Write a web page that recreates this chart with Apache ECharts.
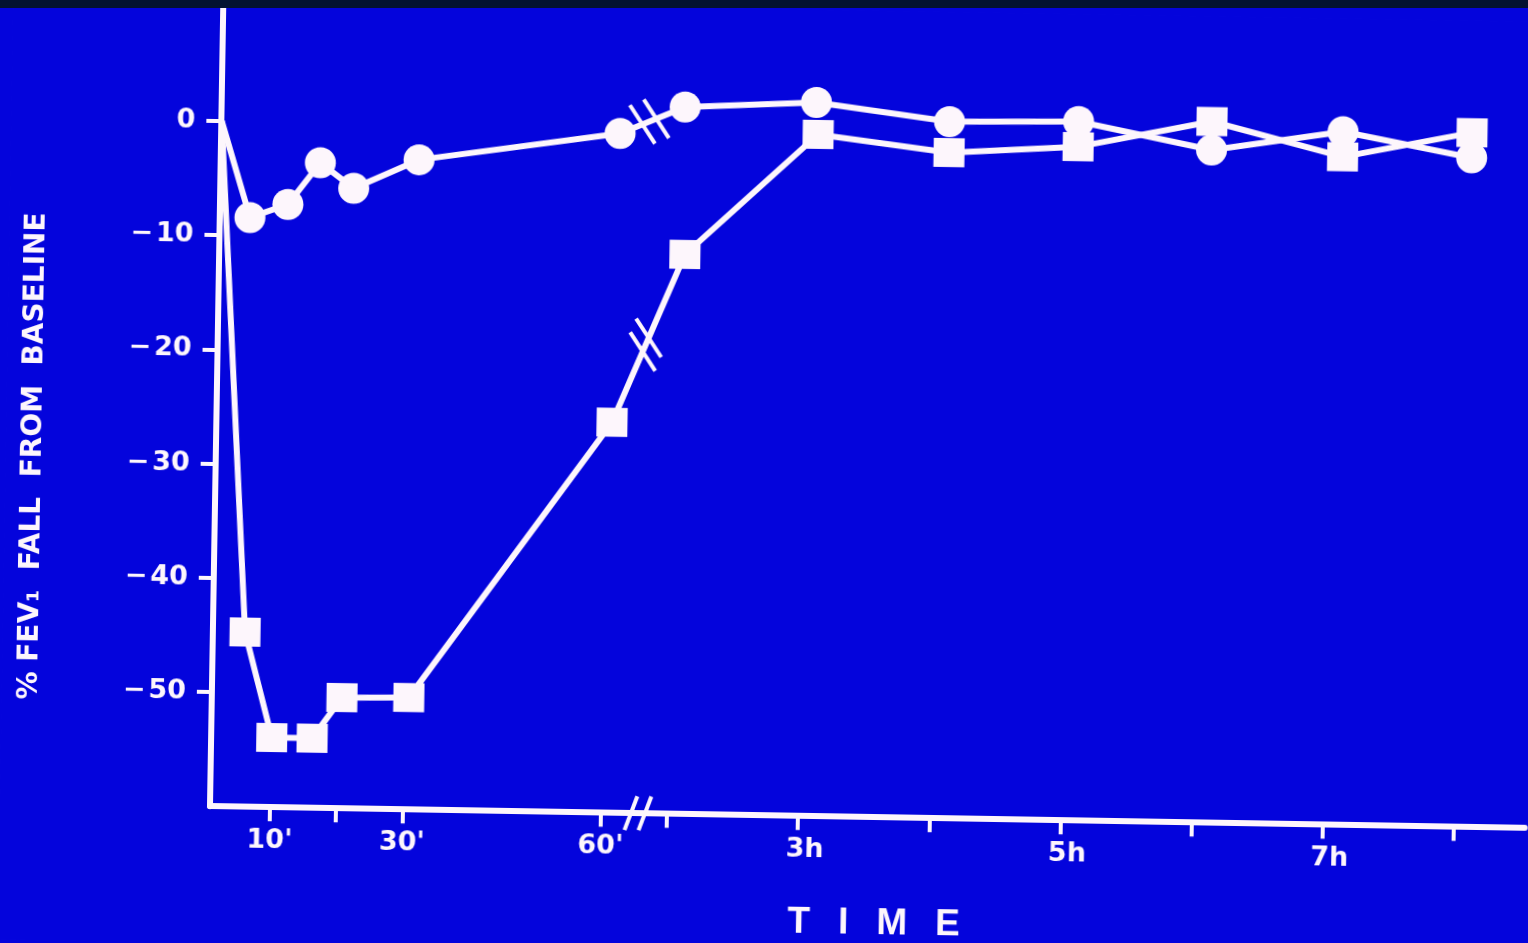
<!DOCTYPE html>
<html>
<head>
<meta charset="utf-8">
<script src="https://cdn.jsdelivr.net/npm/echarts@6/dist/echarts.min.js"></script>
<style>
  html, body { margin: 0; padding: 0; background: #0404dc; overflow: hidden; }
  #c { width: 1528px; height: 943px; transform-origin: 210px 805px; transform: rotate(0.95deg); }
  #band { position: absolute; left: 0; top: 0; width: 1528px; height: 8px; background: #031232; }
</style>
</head>
<body>
<div id="c"></div>
<div id="band"></div>
<script>
// ---- data (time in minutes, % FEV1 fall from baseline) ----
const circleTimes  = [1, 5.5, 11.2, 16.0, 21.1, 30.9, 61.2, 123, 183, 244, 303, 364, 424, 483];
const circleValues = [0, -8.4, -7.2, -3.5, -5.7, -3.1, -0.5, 1.9, 2.5, 1.0, 1.2, -1.1, 0.7, -1.4];
const squareTimes  = [1, 5.8, 10.1, 16.2, 20.6, 30.7, 60.7, 124, 184, 244, 303, 364, 424, 483];
const squareValues = [0, -44.7, -53.9, -53.9, -50.3, -50.2, -25.8, -11.0, -0.3, -1.7, -1.0, 1.4, -1.5, 0.8];
const xTickTimes  = [10, 20, 30, 60, 120, 180, 240, 300, 360, 420, 480];
const xLabelTimes = [10, 30, 60, 180, 300, 420];
const xLabelTexts = ["10'", "30'", "60'", "3h", "5h", "7h"];
const yTickValues = [-50, -40, -30, -20, -10, 0];
const yTitle = '% FEV\u2081  FALL  FROM  BASELINE';
const xTitle = ['T', 'I', 'M', 'E'];

// ---- broken time scale: minutes on the left part, hours on the right part ----
const BREAK_T = 90;          // minutes; axis is broken between 60' and 2h
const BREAK_POS = 428;       // axis position of the break marks
function pos(t) {
  return t <= BREAK_T ? -6.2 + 6.62 * t : 457 + (t / 60 - 2) * 131.2;
}

const WHITE = '#fdf6fc';
const FONT = '"DejaVu Sans", sans-serif';

function buildData(times, values) {
  return times.map((t, i) => i === 0
    ? { value: [pos(t), values[i]], symbol: 'none' }
    : { value: [pos(t), values[i]] });
}
function valueAtBreak(times, values) {
  for (let i = 0; i < times.length - 1; i++) {
    const a = pos(times[i]), b = pos(times[i + 1]);
    if (a <= BREAK_POS && b >= BREAK_POS) {
      const f = (BREAK_POS - a) / (b - a);
      return { y: values[i] + f * (values[i + 1] - values[i]), i: i };
    }
  }
  return { y: 0, i: 0 };
}
const cBreak = valueAtBreak(circleTimes, circleValues);
const sBreak = valueAtBreak(squareTimes, squareValues);
const breakSets = [
  { kind: 'axis' },
  { kind: 'line', times: circleTimes, values: circleValues, i: cBreak.i },
  { kind: 'line', times: squareTimes, values: squareValues, i: sBreak.i }
];

const labelTexts = {};
xLabelTimes.forEach((t, i) => { labelTexts[pos(t).toFixed(3)] = xLabelTexts[i]; });

const LABEL_STYLE = { color: WHITE, fontFamily: FONT, fontWeight: 'bold', fontSize: 27 };

const chart = echarts.init(document.getElementById('c'));
chart.setOption({
  backgroundColor: '#0404dc',
  animation: false,
  grid: { left: 210, right: 3, top: 6.8, bottom: 136.8, containLabel: false, outerBoundsMode: 'none' },
  xAxis: {
    type: 'value', min: 0, max: 1315,
    axisLine: { show: true, onZero: false, lineStyle: { color: WHITE, width: 6 } },
    axisTick: { show: true, customValues: xTickTimes.map(pos), length: 14, lineStyle: { color: WHITE, width: 4 } },
    axisLabel: {
      show: true, customValues: xLabelTimes.map(pos), margin: 20,
      color: WHITE, fontFamily: FONT, fontWeight: 'bold', fontSize: 27,
      formatter: v => {
        const s = labelTexts[Number(v).toFixed(3)] || '';
        return s.indexOf('h') >= 0 ? '{h|' + s + '}' : '{m|' + s + '}';
      },
      rich: {
        m: LABEL_STYLE,
        h: Object.assign({ padding: [0, 0, 0, 14] }, LABEL_STYLE)
      }
    },
    splitLine: { show: false },
    name: xTitle.map(ch => '{t|' + ch + '}').join(''),
    nameLocation: 'middle', nameGap: 88,
    nameTextStyle: {
      padding: [0, 0, 0, 16],
      rich: { t: { color: WHITE, fontFamily: '"Liberation Sans", sans-serif', fontWeight: 'bold', fontSize: 37, padding: [0, 14, 0, 14] } }
    }
  },
  yAxis: {
    type: 'value', min: -60, max: 10,
    axisLine: { show: true, onZero: false, lineStyle: { color: WHITE, width: 6 } },
    axisTick: { show: true, customValues: yTickValues, length: 15, lineStyle: { color: WHITE, width: 4 } },
    axisLabel: {
      show: true, customValues: yTickValues, margin: 26,
      color: WHITE, fontFamily: FONT, fontWeight: 'bold', fontSize: 27,
      formatter: v => v === 0 ? '0' : '\u2212\u200a' + Math.abs(v)
    },
    splitLine: { show: false }
  },
  graphic: [{
    type: 'text', x: 28, y: 459, rotation: Math.PI / 2, z: 10,
    style: {
      text: yTitle, fill: WHITE, fontFamily: FONT, fontWeight: 'bold', fontSize: 28,
      align: 'center', verticalAlign: 'middle'
    }
  }],
  series: [
    {
      name: 'circles', type: 'line', data: buildData(circleTimes, circleValues),
      symbol: 'circle', symbolSize: 31, showAllSymbol: true,
      lineStyle: { color: WHITE, width: 6 }, itemStyle: { color: WHITE }, z: 3
    },
    {
      name: 'squares', type: 'line', data: buildData(squareTimes, squareValues),
      symbol: 'rect', symbolSize: [31, 29], showAllSymbol: true,
      lineStyle: { color: WHITE, width: 6 }, itemStyle: { color: WHITE }, z: 3
    },
    {
      name: 'breaks', type: 'custom', clip: false, z: 5, silent: true,
      data: [[BREAK_POS, -60], [BREAK_POS, cBreak.y], [BREAK_POS, sBreak.y]],
      renderItem: function (params, api) {
        const set = breakSets[params.dataIndex];
        const c = api.coord([api.value(0), api.value(1)]);
        const children = [];
        if (set.kind === 'axis') {
          const a = 70 * Math.PI / 180, h = 18;
          const sx = Math.cos(a) * h, sy = -Math.sin(a) * h;
          [-7, 7].forEach(off => {
            children.push({ type: 'line', shape: { x1: c[0] + off - sx, y1: c[1] - sy, x2: c[0] + off + sx, y2: c[1] + sy },
              style: { stroke: WHITE, lineWidth: 4 } });
          });
        } else {
          const p0 = api.coord([pos(set.times[set.i]), set.values[set.i]]);
          const p1 = api.coord([pos(set.times[set.i + 1]), set.values[set.i + 1]]);
          let dx = p1[0] - p0[0], dy = p1[1] - p0[1];
          const L = Math.sqrt(dx * dx + dy * dy); dx /= L; dy /= L;
          const a = 56 * Math.PI / 180, h = 23;
          const sx = Math.cos(a) * h, sy = Math.sin(a) * h;
          [-7.5, 7.5].forEach(off => {
            const cx = c[0] + dx * off, cy = c[1] + dy * off;
            children.push({ type: 'line', shape: { x1: cx - sx, y1: cy - sy, x2: cx + sx, y2: cy + sy },
              style: { stroke: WHITE, lineWidth: 4 } });
          });
        }
        return { type: 'group', children: children };
      }
    }
  ]
});
</script>
</body>
</html>
